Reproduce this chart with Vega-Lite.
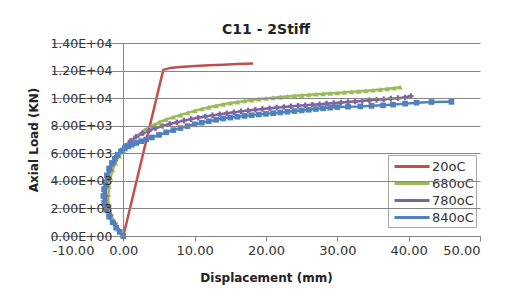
{
  "$schema": "https://vega.github.io/schema/vega-lite/v6.json",
  "width": 428,
  "height": 193,
  "autosize": {"type": "none"},
  "padding": {"left": 52, "top": 43, "right": 47, "bottom": 64},
  "background": "white",
  "title": {"text": "C11 - 2Stiff", "font": "DejaVu Sans", "fontSize": 14, "fontWeight": "bold", "color": "#222", "anchor": "middle", "offset": 0},
  "config": {
    "view": {"stroke": null},
    "font": "DejaVu Sans"
  },
  "data": {"values": [
    {"s": "20oC", "x": 0, "y": 0},
    {"s": "20oC", "x": 5.6, "y": 12050},
    {"s": "20oC", "x": 6.5, "y": 12180},
    {"s": "20oC", "x": 8, "y": 12260},
    {"s": "20oC", "x": 10, "y": 12330},
    {"s": "20oC", "x": 12, "y": 12380},
    {"s": "20oC", "x": 14, "y": 12430},
    {"s": "20oC", "x": 16, "y": 12470},
    {"s": "20oC", "x": 18.2, "y": 12520},

    {"s": "680oC", "x": 0, "y": 0},
    {"s": "680oC", "x": -0.5, "y": 300},
    {"s": "680oC", "x": -1, "y": 700},
    {"s": "680oC", "x": -1.5, "y": 1200},
    {"s": "680oC", "x": -1.9, "y": 1800},
    {"s": "680oC", "x": -2.1, "y": 2400},
    {"s": "680oC", "x": -2.1, "y": 3000},
    {"s": "680oC", "x": -2, "y": 3600},
    {"s": "680oC", "x": -1.8, "y": 4200},
    {"s": "680oC", "x": -1.5, "y": 4800},
    {"s": "680oC", "x": -1.1, "y": 5300},
    {"s": "680oC", "x": -0.6, "y": 5800},
    {"s": "680oC", "x": 0, "y": 6200},
    {"s": "680oC", "x": 0.6, "y": 6600},
    {"s": "680oC", "x": 1.2, "y": 6950},
    {"s": "680oC", "x": 2, "y": 7300},
    {"s": "680oC", "x": 3, "y": 7700},
    {"s": "680oC", "x": 4, "y": 8000},
    {"s": "680oC", "x": 5, "y": 8250},
    {"s": "680oC", "x": 6, "y": 8450},
    {"s": "680oC", "x": 7, "y": 8620},
    {"s": "680oC", "x": 8, "y": 8780},
    {"s": "680oC", "x": 9, "y": 8930},
    {"s": "680oC", "x": 10, "y": 9080},
    {"s": "680oC", "x": 11, "y": 9220},
    {"s": "680oC", "x": 12, "y": 9340},
    {"s": "680oC", "x": 13, "y": 9450},
    {"s": "680oC", "x": 14, "y": 9550},
    {"s": "680oC", "x": 15, "y": 9640},
    {"s": "680oC", "x": 16, "y": 9720},
    {"s": "680oC", "x": 17, "y": 9800},
    {"s": "680oC", "x": 18, "y": 9870},
    {"s": "680oC", "x": 19, "y": 9930},
    {"s": "680oC", "x": 20, "y": 9980},
    {"s": "680oC", "x": 21, "y": 10030},
    {"s": "680oC", "x": 22, "y": 10080},
    {"s": "680oC", "x": 23, "y": 10130},
    {"s": "680oC", "x": 24, "y": 10170},
    {"s": "680oC", "x": 25, "y": 10210},
    {"s": "680oC", "x": 26, "y": 10250},
    {"s": "680oC", "x": 27, "y": 10290},
    {"s": "680oC", "x": 28, "y": 10320},
    {"s": "680oC", "x": 29, "y": 10350},
    {"s": "680oC", "x": 30, "y": 10380},
    {"s": "680oC", "x": 31, "y": 10420},
    {"s": "680oC", "x": 32, "y": 10460},
    {"s": "680oC", "x": 33, "y": 10500},
    {"s": "680oC", "x": 34, "y": 10540},
    {"s": "680oC", "x": 35, "y": 10580},
    {"s": "680oC", "x": 36, "y": 10630},
    {"s": "680oC", "x": 37, "y": 10680},
    {"s": "680oC", "x": 38, "y": 10730},
    {"s": "680oC", "x": 38.8, "y": 10800},

    {"s": "780oC", "x": 0, "y": 0},
    {"s": "780oC", "x": -0.6, "y": 400},
    {"s": "780oC", "x": -1.2, "y": 900},
    {"s": "780oC", "x": -1.8, "y": 1500},
    {"s": "780oC", "x": -2.3, "y": 2200},
    {"s": "780oC", "x": -2.5, "y": 2900},
    {"s": "780oC", "x": -2.4, "y": 3600},
    {"s": "780oC", "x": -2.2, "y": 4200},
    {"s": "780oC", "x": -1.9, "y": 4800},
    {"s": "780oC", "x": -1.4, "y": 5300},
    {"s": "780oC", "x": -0.9, "y": 5800},
    {"s": "780oC", "x": -0.3, "y": 6200},
    {"s": "780oC", "x": 0.3, "y": 6550},
    {"s": "780oC", "x": 1, "y": 6900},
    {"s": "780oC", "x": 1.8, "y": 7200},
    {"s": "780oC", "x": 2.7, "y": 7450},
    {"s": "780oC", "x": 3.6, "y": 7650},
    {"s": "780oC", "x": 4.5, "y": 7820},
    {"s": "780oC", "x": 5.5, "y": 7980},
    {"s": "780oC", "x": 6.5, "y": 8120},
    {"s": "780oC", "x": 7.5, "y": 8250},
    {"s": "780oC", "x": 8.5, "y": 8370},
    {"s": "780oC", "x": 9.5, "y": 8480},
    {"s": "780oC", "x": 10.5, "y": 8580},
    {"s": "780oC", "x": 11.5, "y": 8670},
    {"s": "780oC", "x": 12.5, "y": 8750},
    {"s": "780oC", "x": 13.5, "y": 8830},
    {"s": "780oC", "x": 14.5, "y": 8900},
    {"s": "780oC", "x": 15.5, "y": 8970},
    {"s": "780oC", "x": 16.5, "y": 9040},
    {"s": "780oC", "x": 17.5, "y": 9100},
    {"s": "780oC", "x": 18.5, "y": 9160},
    {"s": "780oC", "x": 19.5, "y": 9210},
    {"s": "780oC", "x": 20.5, "y": 9260},
    {"s": "780oC", "x": 21.5, "y": 9310},
    {"s": "780oC", "x": 22.5, "y": 9360},
    {"s": "780oC", "x": 23.5, "y": 9400},
    {"s": "780oC", "x": 24.5, "y": 9440},
    {"s": "780oC", "x": 25.5, "y": 9480},
    {"s": "780oC", "x": 26.5, "y": 9520},
    {"s": "780oC", "x": 27.5, "y": 9560},
    {"s": "780oC", "x": 28.5, "y": 9600},
    {"s": "780oC", "x": 29.5, "y": 9640},
    {"s": "780oC", "x": 30.5, "y": 9680},
    {"s": "780oC", "x": 31.5, "y": 9720},
    {"s": "780oC", "x": 32.5, "y": 9760},
    {"s": "780oC", "x": 33.5, "y": 9800},
    {"s": "780oC", "x": 34.5, "y": 9840},
    {"s": "780oC", "x": 35.5, "y": 9880},
    {"s": "780oC", "x": 36.5, "y": 9920},
    {"s": "780oC", "x": 37.5, "y": 9960},
    {"s": "780oC", "x": 38.5, "y": 10000},
    {"s": "780oC", "x": 39.5, "y": 10050},
    {"s": "780oC", "x": 40.3, "y": 10150},

    {"s": "840oC", "x": 0, "y": 0},
    {"s": "840oC", "x": -0.5, "y": 300},
    {"s": "840oC", "x": -1, "y": 600},
    {"s": "840oC", "x": -1.5, "y": 1000},
    {"s": "840oC", "x": -2, "y": 1400},
    {"s": "840oC", "x": -2.4, "y": 1900},
    {"s": "840oC", "x": -2.7, "y": 2400},
    {"s": "840oC", "x": -2.8, "y": 2900},
    {"s": "840oC", "x": -2.7, "y": 3400},
    {"s": "840oC", "x": -2.5, "y": 3900},
    {"s": "840oC", "x": -2.3, "y": 4400},
    {"s": "840oC", "x": -2, "y": 4900},
    {"s": "840oC", "x": -1.6, "y": 5300},
    {"s": "840oC", "x": -1.2, "y": 5600},
    {"s": "840oC", "x": -0.8, "y": 5900},
    {"s": "840oC", "x": -0.3, "y": 6150},
    {"s": "840oC", "x": 0.2, "y": 6350},
    {"s": "840oC", "x": 0.7, "y": 6500},
    {"s": "840oC", "x": 1.2, "y": 6620},
    {"s": "840oC", "x": 1.8, "y": 6750},
    {"s": "840oC", "x": 2.5, "y": 6880},
    {"s": "840oC", "x": 3.2, "y": 7000},
    {"s": "840oC", "x": 4, "y": 7150},
    {"s": "840oC", "x": 5, "y": 7330},
    {"s": "840oC", "x": 6, "y": 7520},
    {"s": "840oC", "x": 7, "y": 7680},
    {"s": "840oC", "x": 8, "y": 7830},
    {"s": "840oC", "x": 9, "y": 7970},
    {"s": "840oC", "x": 10, "y": 8100},
    {"s": "840oC", "x": 11, "y": 8220},
    {"s": "840oC", "x": 12, "y": 8330},
    {"s": "840oC", "x": 13, "y": 8430},
    {"s": "840oC", "x": 14, "y": 8520},
    {"s": "840oC", "x": 15, "y": 8590},
    {"s": "840oC", "x": 16, "y": 8650},
    {"s": "840oC", "x": 17, "y": 8710},
    {"s": "840oC", "x": 18, "y": 8760},
    {"s": "840oC", "x": 19, "y": 8810},
    {"s": "840oC", "x": 20, "y": 8860},
    {"s": "840oC", "x": 21, "y": 8910},
    {"s": "840oC", "x": 22, "y": 8960},
    {"s": "840oC", "x": 23, "y": 9010},
    {"s": "840oC", "x": 24, "y": 9060},
    {"s": "840oC", "x": 25, "y": 9110},
    {"s": "840oC", "x": 26, "y": 9160},
    {"s": "840oC", "x": 27, "y": 9210},
    {"s": "840oC", "x": 28, "y": 9260},
    {"s": "840oC", "x": 29, "y": 9310},
    {"s": "840oC", "x": 30, "y": 9350},
    {"s": "840oC", "x": 31.5, "y": 9380},
    {"s": "840oC", "x": 33.2, "y": 9400},
    {"s": "840oC", "x": 34.8, "y": 9440},
    {"s": "840oC", "x": 36.4, "y": 9480},
    {"s": "840oC", "x": 37.8, "y": 9530},
    {"s": "840oC", "x": 39.5, "y": 9600},
    {"s": "840oC", "x": 41.1, "y": 9670},
    {"s": "840oC", "x": 43.2, "y": 9720},
    {"s": "840oC", "x": 46, "y": 9730}
  ]},
  "encoding": {
    "x": {
      "field": "x", "type": "quantitative",
      "scale": {"domain": [-10, 50], "nice": false, "zero": false},
      "axis": {
        "title": "Displacement (mm)",
        "titleFont": "DejaVu Sans", "titleFontSize": 12, "titleFontWeight": "bold", "titleColor": "#222", "titlePadding": 15,
        "values": [-10, 0, 10, 20, 30, 40, 50],
        "labelExpr": "replace(format(datum.value, '.2f'), '\u2212', '-')",
        "labelFont": "DejaVu Sans", "labelFontSize": 13, "labelColor": "#333", "labelPadding": 3,
        "grid": false,
        "domainColor": "#868686", "tickColor": "#868686", "tickSize": 5
      }
    },
    "y": {
      "field": "y", "type": "quantitative",
      "scale": {"domain": [0, 14000], "nice": false},
      "axis": {
        "title": "Axial Load (KN)",
        "titleFont": "DejaVu Sans", "titleFontSize": 12, "titleFontWeight": "bold", "titleColor": "#222", "titlePadding": 9,
        "values": [0, 2000, 4000, 6000, 8000, 10000, 12000, 14000],
        "labelExpr": "datum.value == 0 ? '0.00E+00' : format(datum.value / pow(10, floor(log(datum.value) / LN10 + 1e-9)), '.2f') + 'E+0' + floor(log(datum.value) / LN10 + 1e-9)",
        "labelFont": "DejaVu Sans", "labelFontSize": 12.5, "labelColor": "#333", "labelPadding": 6,
        "offset": -71,
        "zindex": 1,
        "grid": true, "gridColor": "#868686", "gridWidth": 1,
        "domainColor": "#868686", "tickColor": "#868686", "tickSize": 5
      }
    }
  },
  "layer": [
    {
      "mark": {"type": "line", "strokeJoin": "round", "strokeWidth": 2.5},
      "encoding": {
        "order": {"value": null},
        "color": {
          "field": "s", "type": "nominal",
          "scale": {"domain": ["20oC", "680oC", "780oC", "840oC"], "range": ["#C0504D", "#9BBB59", "#8064A2", "#4F81BD"]},
          "legend": {
            "title": null,
            "orient": "none", "legendX": 336, "legendY": 112,
            "symbolType": "M-2.19,0H2.19", "symbolSize": 256, "symbolStrokeWidth": 3,
            "symbolOffset": 12.5,
            "rowPadding": 0,
            "labelFont": "DejaVu Sans", "labelFontSize": 13, "labelColor": "#333", "labelOffset": 10.5,
            "strokeColor": "#a6a6a6", "fillColor": "white", "padding": 2
          }
        }
      }
    },
    {
      "transform": [{"filter": "datum.s != '20oC'"}],
      "mark": {"type": "point", "filled": true, "opacity": 1},
      "encoding": {
        "color": {"field": "s", "type": "nominal", "legend": null},
        "shape": {
          "field": "s", "type": "nominal",
          "scale": {"domain": ["680oC", "780oC", "840oC"], "range": ["triangle-up", "cross", "square"]},
          "legend": null
        },
        "size": {"value": 32}
      }
    }
  ]
}
